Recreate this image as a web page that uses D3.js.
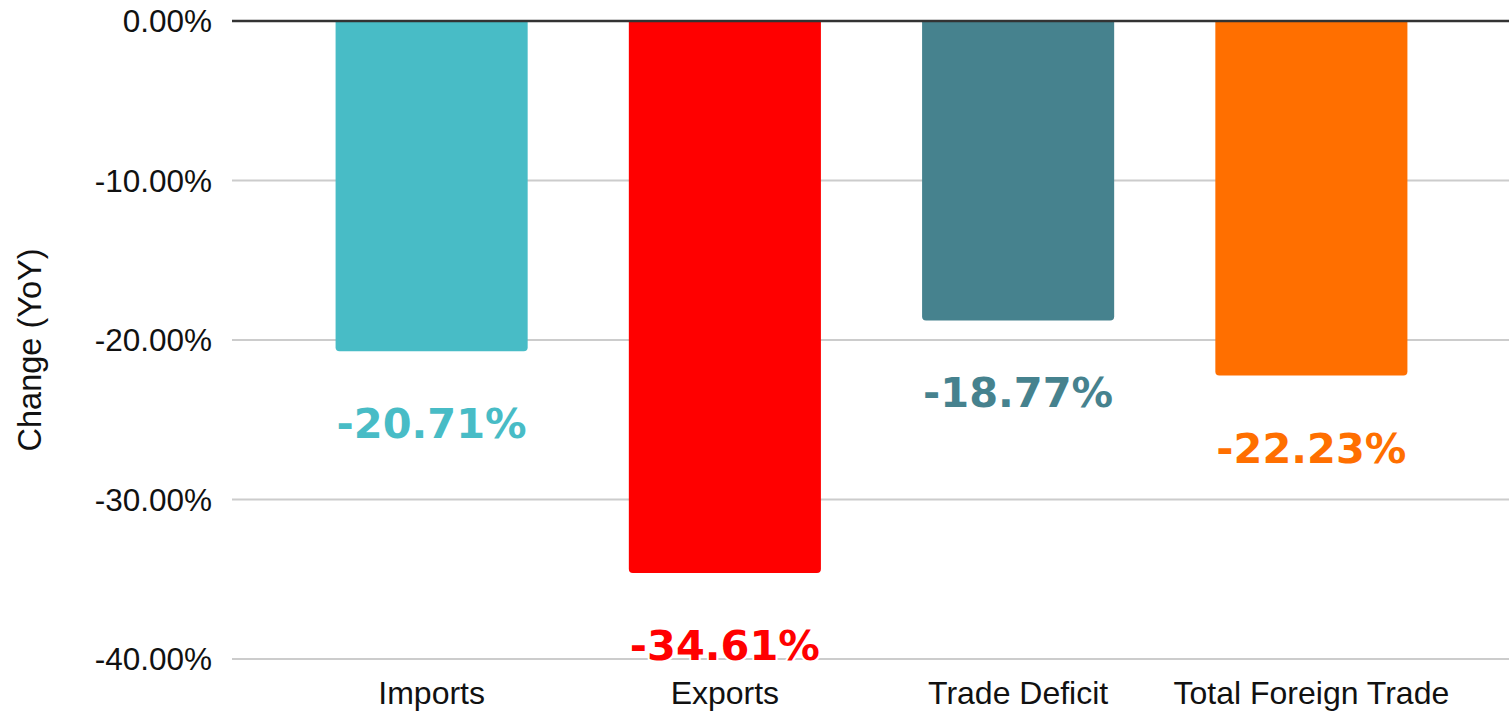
<!DOCTYPE html>
<html><head><meta charset="utf-8">
<script src="https://cdn.jsdelivr.net/npm/d3@7"></script>
<style>body{margin:0;background:#fff}svg{display:block}</style>
</head><body>
<svg id="c" width="1509" height="712"></svg>
<script>
const categories = ["Imports", "Exports", "Trade Deficit", "Total Foreign Trade"];
const values = [-20.71, -34.61, -18.77, -22.23];
const colors = ["#48BCC6", "#FF0000", "#46828E", "#FF6F00"];
const yTicks = [0, -10, -20, -30, -40];
const yTitle = "Change (YoY)";

const svg = d3.select("#c");
const gridLeft = 232, gridRight = 1509;
const y = d3.scaleLinear().domain([-40, 0]).range([659, 21]);
const x = d3.scaleBand().domain(categories).range([285, 1458]).paddingInner(0.345).paddingOuter(0.1725);
const fmt = d => d3.format(".2f")(d).replace("\u2212", "-") + "%";

// gridlines
svg.append("g").selectAll("line").data(yTicks.filter(d => d !== 0)).join("line")
  .attr("x1", gridLeft).attr("x2", gridRight)
  .attr("y1", d => y(d)).attr("y2", d => y(d))
  .attr("stroke", "#cccccc").attr("stroke-width", 2);

// y tick labels
svg.append("g").selectAll("text").data(yTicks).join("text")
  .attr("x", 212).attr("y", d => y(d)).attr("dy", "0.36em")
  .attr("text-anchor", "end")
  .attr("font-family", "Liberation Sans, Arial, sans-serif").attr("font-size", 31.5)
  .attr("fill", "#111").text(d => fmt(d));

// bars with rounded bottom corners
const r = 4;
svg.append("g").selectAll("path").data(categories).join("path")
  .attr("d", (c, i) => {
    const x0 = x(c), w = x.bandwidth(), y0 = y(0), y1 = y(values[i]);
    return `M${x0},${y0}L${x0 + w},${y0}L${x0 + w},${y1 - r}Q${x0 + w},${y1} ${x0 + w - r},${y1}L${x0 + r},${y1}Q${x0},${y1} ${x0},${y1 - r}Z`;
  })
  .attr("fill", (c, i) => colors[i]);

// zero line
svg.append("line").attr("x1", gridLeft).attr("x2", gridRight)
  .attr("y1", y(0)).attr("y2", y(0)).attr("stroke", "#333").attr("stroke-width", 2.5);

// value labels
svg.append("g").selectAll("text").data(categories).join("text")
  .attr("x", c => x(c) + x.bandwidth() / 2)
  .attr("y", (c, i) => y(values[i]) + 87)
  .attr("text-anchor", "middle")
  .attr("font-family", "DejaVu Sans, Verdana, sans-serif").attr("font-weight", "bold")
  .attr("font-size", 41.5)
  .attr("fill", (c, i) => colors[i])
  .attr("stroke", "#fff").attr("stroke-width", 4).attr("paint-order", "stroke")
  .attr("stroke-linejoin", "round")
  .text((c, i) => fmt(values[i]));

// category labels
svg.append("g").selectAll("text").data(categories).join("text")
  .attr("x", c => x(c) + x.bandwidth() / 2).attr("y", 704)
  .attr("text-anchor", "middle")
  .attr("font-family", "Liberation Sans, Arial, sans-serif").attr("font-size", 32)
  .attr("fill", "#111").text(c => c);

// y title
svg.append("text")
  .attr("transform", "translate(41,350) rotate(-90)")
  .attr("text-anchor", "middle")
  .attr("font-family", "Liberation Sans, Arial, sans-serif").attr("font-size", 32.5)
  .attr("fill", "#111").text(yTitle);
</script>
</body></html>
